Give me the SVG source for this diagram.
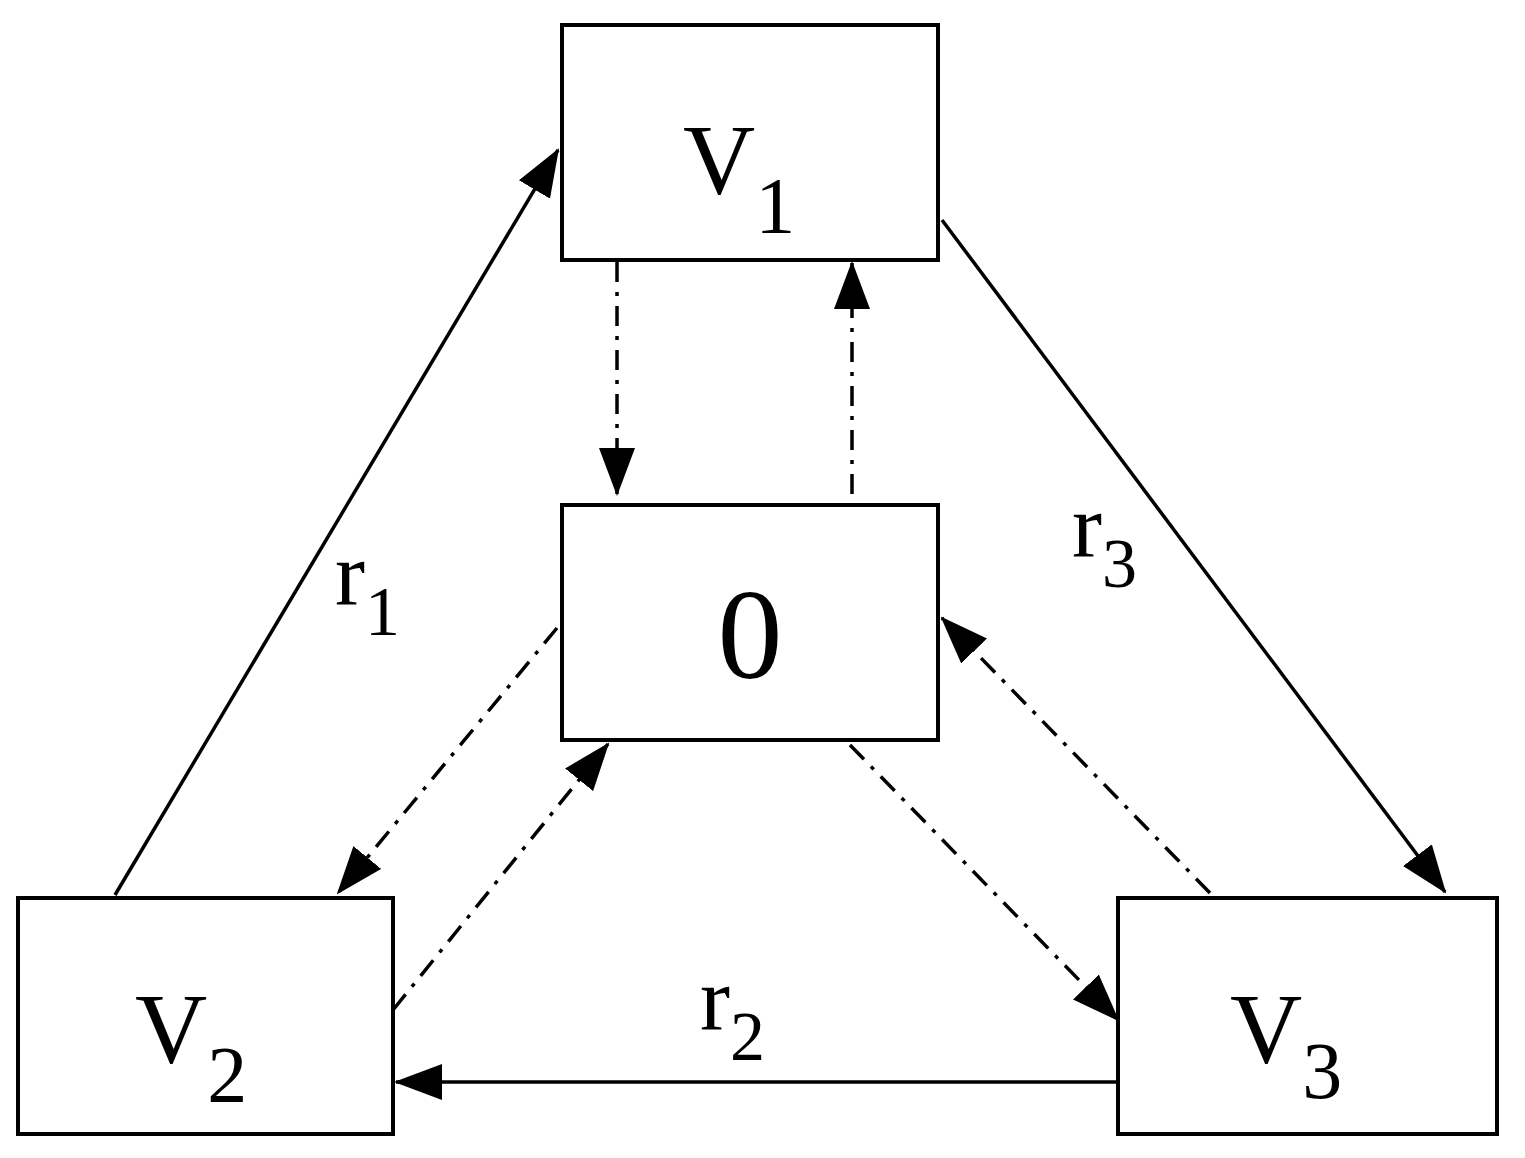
<svg xmlns="http://www.w3.org/2000/svg" width="1525" height="1158" viewBox="0 0 1525 1158">
<style>
.box{fill:#fff;stroke:#000;stroke-width:4}
.t{font-family:"Liberation Serif",serif;fill:#000}
.e{stroke:#000;stroke-width:3.5;fill:none}
.d{stroke-dasharray:20 10 4 10}
</style>
<defs>
<marker id="a" markerUnits="userSpaceOnUse" markerWidth="48" markerHeight="36" refX="46" refY="18" orient="auto">
<path d="M0,0 L48,18 L0,36 Z" fill="#000"/>
</marker>
</defs>
<rect width="1525" height="1158" fill="#fff"/>
<g id="connectors">
<line class="e" x1="115" y1="895" x2="558" y2="150" marker-end="url(#a)"/>
<line class="e" x1="942" y1="220" x2="1445" y2="892" marker-end="url(#a)"/>
<line class="e" x1="1118" y1="1082" x2="396" y2="1082" marker-end="url(#a)"/>
<line class="e d" x1="617" y1="262" x2="617" y2="494" marker-end="url(#a)"/>
<line class="e d" x1="852" y1="494" x2="852" y2="263" marker-end="url(#a)"/>
<line class="e d" x1="557" y1="628" x2="338" y2="893" marker-end="url(#a)"/>
<line class="e d" x1="393" y1="1010" x2="608" y2="744" marker-end="url(#a)"/>
<line class="e d" x1="850" y1="745" x2="1118" y2="1020" marker-end="url(#a)"/>
<line class="e d" x1="1210" y1="893" x2="942" y2="618" marker-end="url(#a)"/>
</g>
<g id="V1"><rect class="box" x="562" y="25" width="376" height="235"/>
<text class="t" x="683" y="193" font-size="100">V<tspan font-size="80" dy="40">1</tspan></text></g>
<g id="N0"><rect class="box" x="562" y="505" width="376" height="235"/>
<text class="t" x="750" y="678" font-size="130" text-anchor="middle">0</text></g>
<g id="V2"><rect class="box" x="18" y="898" width="375" height="236"/>
<text class="t" x="135" y="1062" font-size="100">V<tspan font-size="80" dy="40">2</tspan></text></g>
<g id="V3"><rect class="box" x="1118" y="898" width="379" height="236"/>
<text class="t" x="1230" y="1062" font-size="100">V<tspan font-size="80" dy="36">3</tspan></text></g>
<g id="labels">
<text class="t" x="335" y="605" font-size="90">r<tspan font-size="70" dy="30">1</tspan></text>
<text class="t" x="700" y="1030" font-size="90">r<tspan font-size="70" dy="30">2</tspan></text>
<text class="t" x="1072" y="557" font-size="90">r<tspan font-size="70" dy="30">3</tspan></text>
</g>
</svg>
